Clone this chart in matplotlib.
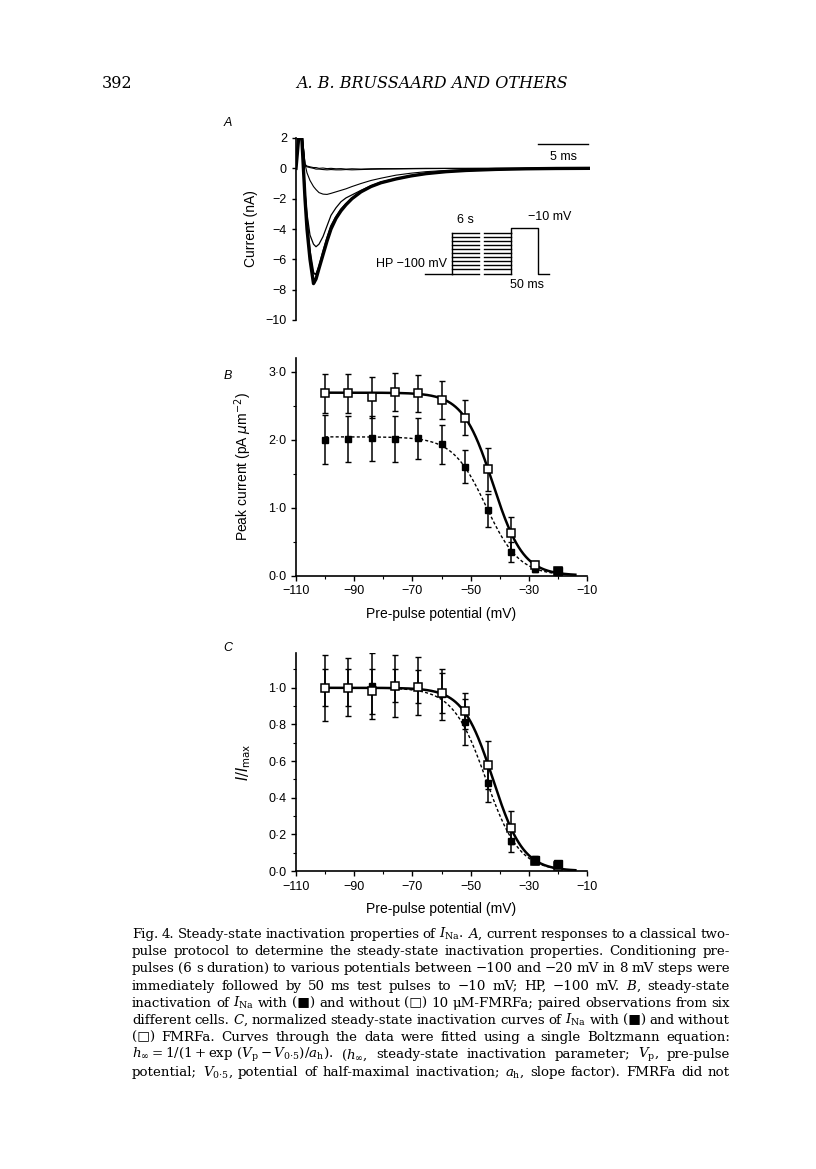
import numpy as np
import matplotlib
matplotlib.use("Agg")
import matplotlib.pyplot as plt
from matplotlib.ticker import MultipleLocator, FuncFormatter

plt.rcParams['font.family'] = ['Liberation Sans', 'DejaVu Sans']
plt.rcParams['mathtext.fontset'] = 'dejavuserif'
plt.rcParams['axes.linewidth'] = 1.2

W, H = 816, 1169

# ---- panel A: current traces (nA) at test pulse
t_ms = [0, 0.4, 0.5, 0.9, 1.1, 1.4, 1.75, 2.0, 2.3, 2.7, 3.1, 3.5, 4.0, 4.5, 5.0,
        5.6, 6.5, 7.5, 8.5, 10, 11.5, 13, 15, 17, 20, 23, 26, 29.4]
trace_1 = [0, 3, 3, -2.0, -4.0, -6.0, -7.6, -7.3, -6.6, -5.7, -4.8, -4.0, -3.3, -2.8,
           -2.4, -2.0, -1.55, -1.2, -0.95, -0.7, -0.5, -0.35, -0.22, -0.14, -0.07, -0.03, -0.01, 0]
trace_2 = [0, 3, 3, -1.8, -3.6, -5.5, -6.9, -7.0, -6.5, -5.5, -4.6, -3.8, -3.2, -2.7,
           -2.35, -2.0, -1.55, -1.2, -0.95, -0.7, -0.5, -0.35, -0.22, -0.14, -0.07, -0.03, -0.01, 0]
trace_3 = [0, 3, 3, -1.5, -3.0, -4.4, -5.0, -5.17, -5.0, -4.5, -3.8, -3.1, -2.6, -2.2,
           -1.95, -1.75, -1.45, -1.15, -0.9, -0.68, -0.5, -0.35, -0.22, -0.14, -0.07, -0.03, -0.01, 0]
trace_4 = [0, 3, 3, 0.3, -0.3, -0.8, -1.2, -1.4, -1.6, -1.7, -1.72, -1.65, -1.55, -1.45,
           -1.35, -1.2, -1.0, -0.8, -0.65, -0.45, -0.32, -0.22, -0.14, -0.09, -0.05, -0.02, -0.01, 0]
trace_5 = [0, 3, 3, 0.3, 0.1, 0.05, 0.0, -0.05, -0.05, -0.08, -0.1, -0.08, -0.1, -0.1,
           -0.08, -0.1, -0.08, -0.06, -0.05, -0.04, -0.03, -0.02, -0.01, -0.01, 0, 0, 0, 0]
trace_6 = [0, 3, 3, 0.2, 0.15, 0.1, 0.05, 0.05, 0.0, 0.02, -0.02, 0, -0.03, -0.02,
           -0.05, -0.03, -0.05, -0.03, -0.02, -0.02, -0.01, 0, 0, 0, 0, 0, 0, 0]

# protocol (mV)
hp_mv = -100
prepulse_mv = [-100, -92, -84, -76, -68, -60, -52, -44, -36, -28, -20]
test_mv = -10

# ---- panel B / C
v_pre = [-100, -92, -84, -76, -68, -60, -52, -44, -36, -28, -20]
ctrl_b = [2.68, 2.68, 2.62, 2.70, 2.68, 2.58, 2.32, 1.56, 0.62, 0.16, 0.06]
ctrl_b_err = [0.29, 0.29, 0.30, 0.28, 0.27, 0.28, 0.26, 0.32, 0.24, 0.05, 0.03]
fmrfa_b = [2.00, 2.01, 2.02, 2.01, 2.02, 1.93, 1.60, 0.96, 0.35, 0.09, 0.07]
fmrfa_b_err = [0.36, 0.34, 0.33, 0.34, 0.30, 0.29, 0.24, 0.24, 0.15, 0.04, 0.03]

ctrl_c = [1.00, 1.00, 0.98, 1.01, 1.005, 0.97, 0.873, 0.58, 0.236, 0.056, 0.027]
ctrl_c_err = [0.10, 0.10, 0.125, 0.09, 0.09, 0.11, 0.10, 0.13, 0.09, 0.02, 0.01]
fmrfa_c = [1.00, 1.005, 1.01, 1.01, 1.01, 0.964, 0.815, 0.48, 0.164, 0.062, 0.038]
fmrfa_c_err = [0.18, 0.16, 0.18, 0.17, 0.16, 0.14, 0.125, 0.105, 0.06, 0.02, 0.01]

# Boltzmann fit parameters (max, V0.5, slope)
fit_ctrl_b = (2.69, -42.3, 5.2)
fit_fmrfa_b = (2.04, -44.7, 5.7)
fit_ctrl_c = (1.0, -42.3, 5.2)
fit_fmrfa_c = (1.0, -44.7, 5.7)

caption_lines = [
    r"Fig. 4. Steady-state inactivation properties of $I_{\mathrm{Na}}$. $A$, current responses to a classical two-",
    r"pulse protocol to determine the steady-state inactivation properties. Conditioning pre-",
    r"pulses (6 s duration) to various potentials between −100 and −20 mV in 8 mV steps were",
    r"immediately followed by 50 ms test pulses to −10 mV; HP, −100 mV. $B$, steady-state",
    r"inactivation of $I_{\mathrm{Na}}$ with (■) and without (□) 10 μM-FMRFa; paired observations from six",
    r"different cells. $C$, normalized steady-state inactivation curves of $I_{\mathrm{Na}}$ with (■) and without",
    r"(□) FMRFa. Curves through the data were fitted using a single Boltzmann equation:",
    r"$h_\infty=1/(1+\exp\,(V_\mathrm{p}-V_{0{\cdot}5})/a_\mathrm{h})$. ($h_\infty$, steady-state inactivation parameter; $V_\mathrm{p}$, pre-pulse",
    r"potential; $V_{0{\cdot}5}$, potential of half-maximal inactivation; $a_\mathrm{h}$, slope factor). FMRFa did not",
]


def boltz(v, p):
    return p[0] / (1 + np.exp((v - p[1]) / p[2]))


def rect(left, top, right, bottom):
    return [left / W, 1 - bottom / H, (right - left) / W, (bottom - top) / H]


fig = plt.figure(figsize=(W / 100, H / 100), dpi=100)

# ---------------- A
axA = fig.add_axes(rect(296, 138, 590, 320))
for tr, lw in [(trace_6, 0.8), (trace_5, 0.8), (trace_4, 0.8), (trace_3, 0.9),
               (trace_2, 1.3), (trace_1, 2.4)]:
    axA.plot(t_ms, tr, color='black', lw=lw, solid_joinstyle='round')
axA.set_xlim(0, 29.4)
axA.set_ylim(-10, 2)
axA.set_yticks([2, 0, -2, -4, -6, -8, -10])
axA.yaxis.set_major_formatter(FuncFormatter(lambda v, p: f"{v:.0f}".replace("-", "−")))
axA.set_xticks([])
for s in ['top', 'right', 'bottom']:
    axA.spines[s].set_visible(False)
axA.tick_params(axis='y', direction='out', length=3, width=1, labelsize=9)
axA.set_ylabel("Current (nA)", fontsize=10)
axA.yaxis.set_label_coords(-0.13, 0.5)

# protocol inset, drawn in trace coordinates
def prot_y(mv):
    return -6.94 + (mv - hp_mv) * (2.70 / 80)

kw = dict(color='black', lw=1.0)
axA.plot([12.9, 15.6], [prot_y(hp_mv)] * 2, **kw)
axA.plot([15.6, 15.6], [prot_y(hp_mv), prot_y(max(prepulse_mv))], **kw)
for mv in prepulse_mv:
    axA.plot([15.6, 18.3], [prot_y(mv)] * 2, **kw)
    axA.plot([18.8, 21.5], [prot_y(mv)] * 2, **kw)
axA.plot([21.5, 21.5, 24.2, 24.2, 25.3],
         [prot_y(max(prepulse_mv)), prot_y(test_mv), prot_y(test_mv), prot_y(hp_mv), prot_y(hp_mv)], **kw)
axA.plot([21.5, 21.5], [prot_y(hp_mv), prot_y(max(prepulse_mv))], **kw)
axA.text(16.9, -3.41, "6 s", ha='center', va='center', fontsize=9)
axA.text(25.4, -3.23, "−10 mV", ha='center', va='center', fontsize=9)
axA.text(15.1, -6.31, "HP −100 mV", ha='right', va='center', fontsize=9)
axA.text(23.1, -7.69, "50 ms", ha='center', va='center', fontsize=9)
axA.plot([24.2, 29.2], [1.58, 1.58], color='black', lw=1.0, clip_on=False)
axA.text(26.7, 0.77, "5 ms", ha='center', va='center', fontsize=9)

# ---------------- B and C
dot_fmt = FuncFormatter(lambda v, p: f"{v:.1f}".replace(".", "·"))
x_fmt = FuncFormatter(lambda v, p: f"{v:.0f}".replace("-", "−"))


def inact_panel(ax, ctrl, ctrl_err, fm, fm_err, pc, pf, ymax, ymaj, ymin):
    v = np.linspace(-100, -14, 300)
    ax.plot(v, boltz(v, pf), color='black', lw=1.0, ls=(0, (2.2, 1.6)), zorder=2)
    ax.plot(v, boltz(v, pc), color='black', lw=1.8, zorder=2)
    ax.errorbar(v_pre, fm, yerr=fm_err, fmt='none', ecolor='black', elinewidth=1.1,
                capsize=2.3, capthick=1.0, zorder=3)
    ax.errorbar(v_pre, ctrl, yerr=ctrl_err, fmt='none', ecolor='black', elinewidth=1.1,
                capsize=2.3, capthick=1.0, zorder=3)
    ax.plot(v_pre, fm, 's', color='black', ms=4.6, zorder=4)
    ax.plot(v_pre, ctrl, 's', mfc='white', mec='black', mew=1.1, ms=6, zorder=5)
    # at the depolarised end the filled symbols sit over the open ones
    vv, cc, ff = np.array(v_pre), np.array(ctrl), np.array(fm)
    top = (vv >= -28) & (np.abs(cc - ff) < 0.03)
    ax.plot(vv[top], ff[top], 's', color='black', ms=6, zorder=6)
    ax.set_xlim(-110, -10)
    ax.set_ylim(0, ymax)
    ax.set_xticks([-110, -90, -70, -50, -30, -10])
    ax.xaxis.set_minor_locator(MultipleLocator(10))
    ax.yaxis.set_major_locator(MultipleLocator(ymaj))
    ax.yaxis.set_minor_locator(MultipleLocator(ymin))
    ax.yaxis.set_major_formatter(dot_fmt)
    ax.xaxis.set_major_formatter(x_fmt)
    for s in ['top', 'right']:
        ax.spines[s].set_visible(False)
    ax.tick_params(which='major', direction='out', length=3.5, width=1, labelsize=9)
    ax.tick_params(which='minor', direction='out', length=2, width=0.8)
    ax.set_xlabel("Pre-pulse potential (mV)", fontsize=10, labelpad=7)


axB = fig.add_axes(rect(296, 358, 587, 575.5))
inact_panel(axB, ctrl_b, ctrl_b_err, fmrfa_b, fmrfa_b_err, fit_ctrl_b, fit_fmrfa_b, 3.2, 1.0, 0.5)
axB.set_ylabel(r"Peak current (pA $\mu$m$^{-2}$)", fontsize=10, math_fontfamily='dejavusans')
axB.yaxis.set_label_coords(-0.145, 0.5)

axC = fig.add_axes(rect(296, 653, 587, 871))
inact_panel(axC, ctrl_c, ctrl_c_err, fmrfa_c, fmrfa_c_err, fit_ctrl_c, fit_fmrfa_c, 1.19, 0.2, 0.1)
axC.set_ylabel(r"$\mathit{I/I}_{\mathrm{max}}$", fontsize=10.5, math_fontfamily='dejavusans')
axC.yaxis.set_label_coords(-0.148, 0.5)

# panel letters
for lab, y in [("A", 123), ("B", 376), ("C", 648)]:
    fig.text(228 / W, 1 - y / H, lab, fontsize=9, style='italic', ha='center', va='center')

# page header
serif = ['DejaVu Serif', 'DejaVu Sans']
fig.text(102 / W, 1 - 88 / H, "392", fontsize=11.5, family=serif, va='baseline')
fig.text(432 / W, 1 - 88 / H, "A. B. BRUSSAARD AND OTHERS", fontsize=11.5, family=serif,
         style='italic', ha='center', va='baseline')


# caption, justified line by line
def split_words(line):
    words, cur, in_math = [], '', False
    for ch in line:
        if ch == '$':
            in_math = not in_math
        if ch == ' ' and not in_math:
            if cur:
                words.append(cur)
            cur = ''
        else:
            cur += ch
    if cur:
        words.append(cur)
    return words


renderer = fig.canvas.get_renderer()
x0, x1 = 132, 730
for i, line in enumerate(caption_lines):
    yb = 938 + i * 17.2
    words = split_words(line)
    texts = [fig.text(0, 1 - yb / H, w, fontsize=9.6, family=serif, va='baseline') for w in words]
    widths = [t.get_window_extent(renderer).width for t in texts]
    gap = (x1 - x0 - sum(widths)) / (len(words) - 1)
    x = x0
    for t, w in zip(texts, widths):
        t.set_x(x / W)
        x += w + gap

fig.savefig("out.png", dpi=100)
